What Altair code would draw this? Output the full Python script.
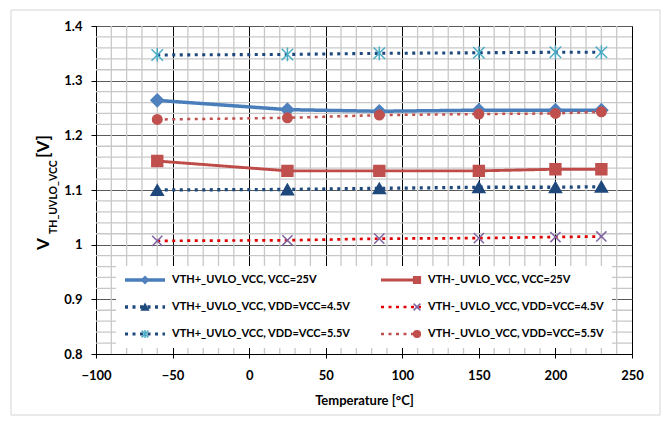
import altair as alt
import pandas as pd

# ---------------- data ----------------
temps = [-60, 25, 85, 150, 200, 230]

# order chosen so that the column-major legend reads like the reference
series_names = [
    "VTH+_UVLO_VCC, VCC=25V",
    "VTH+_UVLO_VCC, VDD=VCC=4.5V",
    "VTH+_UVLO_VCC, VDD=VCC=5.5V",
    "VTH-_UVLO_VCC, VCC=25V",
    "VTH-_UVLO_VCC, VDD=VCC=4.5V",
    "VTH-_UVLO_VCC, VDD=VCC=5.5V",
]

vthp_vcc25 = [1.264, 1.247, 1.244, 1.246, 1.246, 1.246]
vthp_vdd45 = [1.100, 1.101, 1.103, 1.105, 1.105, 1.106]
vthp_vdd55 = [1.347, 1.348, 1.350, 1.351, 1.352, 1.352]
vthm_vcc25 = [1.153, 1.135, 1.135, 1.135, 1.138, 1.138]
vthm_vdd45 = [1.007, 1.008, 1.011, 1.012, 1.014, 1.015]
vthm_vdd55 = [1.229, 1.232, 1.237, 1.239, 1.240, 1.243]

series_values = [vthp_vcc25, vthp_vdd45, vthp_vdd55, vthm_vcc25, vthm_vdd45, vthm_vdd55]

x_ticks = [-100, -50, 0, 50, 100, 150, 200, 250]
y_ticks = [0.8, 0.9, 1.0, 1.1, 1.2, 1.3, 1.4]
x_minor = [v for v in range(-90, 250, 10) if v % 50 != 0]
y_minor = [round(0.8 + 0.02 * i, 2) for i in range(1, 30) if i % 5 != 0]

# ---------------- styles ----------------
X_PATH = "M-1,-1L1,1M-1,1L1,-1"
STAR_PATH = "M-1,-1L1,1M-1,1L1,-1M0,-1.2L0,1.2"
line_colors = ["#4A7EBB", "#1F497D", "#1F497D", "#BE4B48", "#E00000", "#C0504D"]
line_widths = [3.5, 2.5, 2.5, 3.5, 2.5, 2.5]
line_dashes = [[1, 0], [3, 4.5], [3, 4.5], [1, 0], [3, 4.5], [3, 4.5]]
marker_shapes = ["diamond", "triangle-up", STAR_PATH, "square", X_PATH, "circle"]
marker_fills = ["#4F81BD", "#1F497D", "transparent", "#C0504D", "transparent", "#C0504D"]
marker_strokes = ["#4F81BD", "#1F497D", "#4BACC6", "#C0504D", "#8064A2", "#C0504D"]
marker_sizes = [160, 90, 150, 130, 110, 100]

FONT = "Lato"

rows = []
for name, vals in zip(series_names, series_values):
    for t, v in zip(temps, vals):
        rows.append({"series": name, "marker": name + " ", "msize": name + "  ",
                     "temp": t, "v": v})
df = pd.DataFrame(rows)
marker_names = [n + " " for n in series_names]
size_names = [n + "  " for n in series_names]

W, H = 536, 328

x_scale = alt.Scale(domain=[-100, 250], nice=False, zero=False)
y_scale = alt.Scale(domain=[0.8, 1.4], nice=False, zero=False)

x_axis = alt.Axis(
    values=x_ticks, title="Temperature [°C]", grid=True, gridColor="#000000",
    gridWidth=1, domainColor="#000000", tickColor="#000000", tickSize=4,
    labelFont=FONT, labelFontSize=13, labelFontWeight="bold", labelColor="#000000",
    labelPadding=11, titleFont=FONT, titleFontSize=13, titleFontWeight="bold",
    titleColor="#000000", titlePadding=12, labelFlush=False,
)
y_axis = alt.Axis(
    values=y_ticks, title=None, grid=True, gridColor="#5a5a5a", gridWidth=1,
    domainColor="#000000", tickColor="#000000", tickSize=5, format="~g",
    labelFont=FONT, labelFontSize=13, labelFontWeight="bold", labelColor="#000000",
    labelPadding=9, labelFlush=False,
)


def X(field):
    return alt.X(field, type="quantitative", scale=x_scale, axis=x_axis)


def Y(field):
    return alt.Y(field, type="quantitative", scale=y_scale, axis=y_axis)


# minor grid
gx = alt.Chart(pd.DataFrame({"gx": x_minor})).mark_rule(
    color="#c8c8c8", strokeWidth=1.3
).encode(x=X("gx"))
gy = alt.Chart(pd.DataFrame({"gy": y_minor})).mark_rule(
    color="#c8c8c8", strokeWidth=1.3
).encode(y=Y("gy"))

# frame around whole chart (decorative)
frame = alt.Chart(pd.DataFrame({"a": [0]})).mark_rect(
    fill="transparent", stroke="#d4d4d4", strokeWidth=1
).encode(x=alt.value(-85), x2=alt.value(564), y=alt.value(-16), y2=alt.value(389))

cp1 = 28
legend_lines = alt.Legend(
    orient="none", legendX=20, legendY=240, columns=2, title=None,
    symbolType="stroke", symbolSize=1600, clipHeight=14, rowPadding=13,
    columnPadding=cp1, labelOffset=5, padding=7, fillColor="white",
    labelFont=FONT, labelFontSize=11, labelFontWeight="bold", labelColor="#000000",
    labelLimit=400, zindex=1,
)
legend_marks = alt.Legend(
    orient="none", legendX=20, legendY=240, columns=2, title=None,
    symbolSize=45, symbolStrokeWidth=1.5, symbolOffset=16.5, clipHeight=14,
    rowPadding=13, columnPadding=cp1, labelOffset=38, padding=7, labelOpacity=0,
    labelFont=FONT, labelFontSize=11, labelFontWeight="bold", labelLimit=400,
    zindex=2,
)

lines = alt.Chart(df).mark_line().encode(
    x=X("temp"), y=Y("v"),
    stroke=alt.Stroke("series:N", scale=alt.Scale(domain=series_names, range=line_colors), legend=legend_lines),
    strokeDash=alt.StrokeDash("series:N", scale=alt.Scale(domain=series_names, range=line_dashes), legend=legend_lines),
    strokeWidth=alt.StrokeWidth("series:N", scale=alt.Scale(domain=series_names, range=line_widths), legend=legend_lines),
)

points = alt.Chart(df).mark_point(filled=True, strokeWidth=1.5, opacity=1).encode(
    x=X("temp"), y=Y("v"),
    shape=alt.Shape("marker:N", scale=alt.Scale(domain=marker_names, range=marker_shapes), legend=legend_marks),
    fill=alt.Fill("marker:N", scale=alt.Scale(domain=marker_names, range=marker_fills), legend=legend_marks),
    stroke=alt.Stroke("marker:N", scale=alt.Scale(domain=marker_names, range=marker_strokes), legend=legend_marks),
    size=alt.Size("msize:N", scale=alt.Scale(domain=size_names, range=marker_sizes), legend=None),
)

# y axis title with subscript
one = pd.DataFrame({"a": [0]})
t_v = alt.Chart(one).mark_text(
    angle=270, align="left", baseline="alphabetic", font=FONT, fontSize=17,
    fontWeight="bold", color="#000000"
).encode(x=alt.value(-47.5), y=alt.value(224), text=alt.value("V"))
t_sub = alt.Chart(one).mark_text(
    angle=270, align="left", baseline="alphabetic", font=FONT, fontSize=10.5,
    fontWeight="bold", color="#000000"
).encode(x=alt.value(-39), y=alt.value(208), text=alt.value("TH_UVLO_VCC"))
t_unit = alt.Chart(one).mark_text(
    angle=270, align="left", baseline="alphabetic", font=FONT, fontSize=17,
    fontWeight="bold", color="#000000"
).encode(x=alt.value(-47.5), y=alt.value(132), text=alt.value("[V]"))

chart = alt.layer(gx, gy, frame, lines, points, t_v, t_sub, t_unit).resolve_scale(
    stroke="independent", strokeDash="independent", strokeWidth="independent",
    shape="independent", fill="independent", size="independent",
).properties(
    width=W, height=H,
    autosize=alt.AutoSizeParams(type="none"),
    padding={"left": 96, "top": 26, "right": 31, "bottom": 67},
    background="white",
).configure_view(stroke="#3a3a3a", strokeWidth=1)

chart.save("out.html", embed_options={"renderer": "svg", "actions": False})
